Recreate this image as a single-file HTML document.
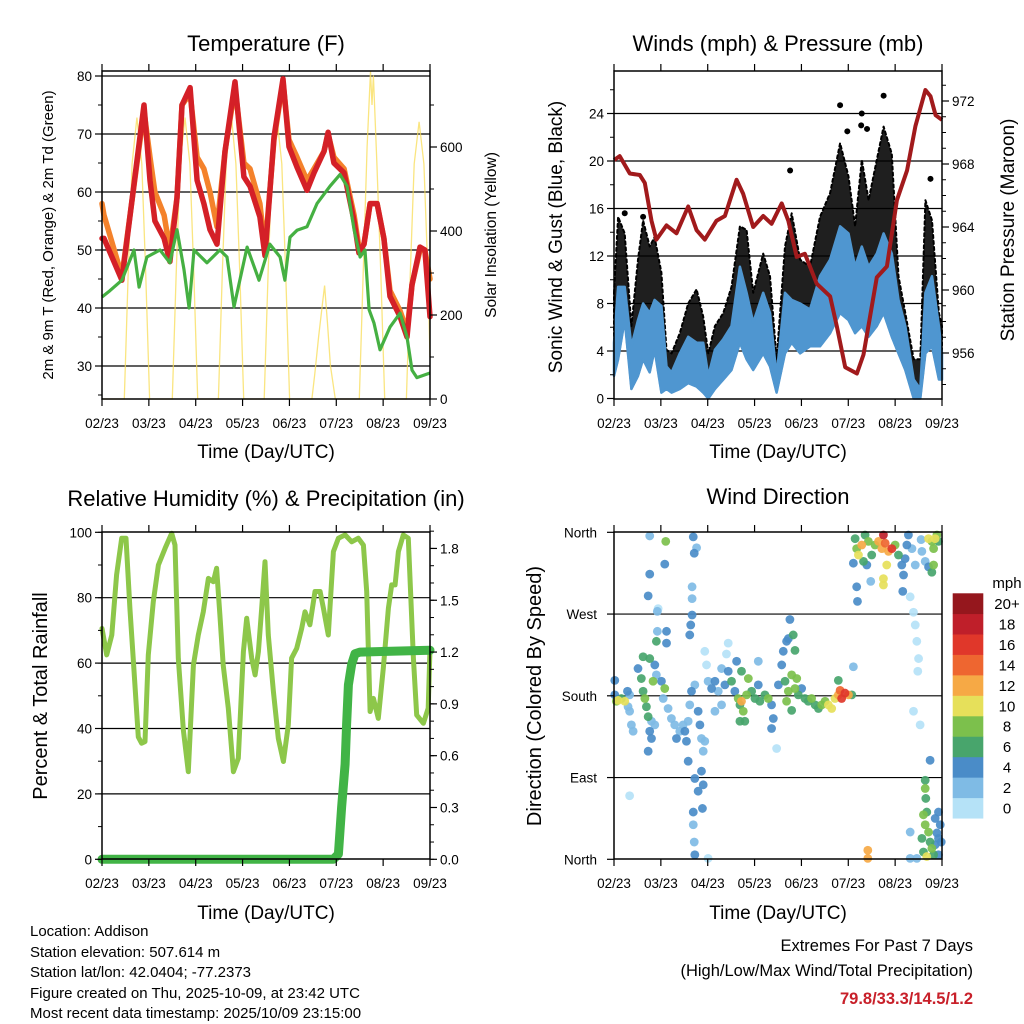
<!DOCTYPE html>
<html><head><meta charset="utf-8"><title>Station Meteogram</title>
<style>
html,body{margin:0;padding:0;background:#fff;}
svg{display:block;font-family:"Liberation Sans",Arial,sans-serif;}
</style></head>
<body>
<svg id="chart" width="1024" height="1024" viewBox="0 0 1024 1024">
<rect x="0" y="0" width="1024" height="1024" fill="#fff"/>
<text x="266" y="51" font-size="22" text-anchor="middle">Temperature (F)</text>
<text x="778" y="51" font-size="22" text-anchor="middle">Winds (mph) &amp; Pressure (mb)</text>
<text x="266" y="506" font-size="22" text-anchor="middle">Relative Humidity (%) &amp; Precipitation (in)</text>
<text x="778" y="504" font-size="22" text-anchor="middle">Wind Direction</text>
<text x="266" y="458" font-size="19" text-anchor="middle">Time (Day/UTC)</text>
<text x="778" y="458" font-size="19" text-anchor="middle">Time (Day/UTC)</text>
<text x="266" y="919" font-size="19" text-anchor="middle">Time (Day/UTC)</text>
<text x="778" y="919" font-size="19" text-anchor="middle">Time (Day/UTC)</text>
<text transform="translate(53,235) rotate(-90)" font-size="15" text-anchor="middle">2m &amp; 9m T (Red, Orange) &amp; 2m Td (Green)</text>
<text transform="translate(496,235) rotate(-90)" font-size="15.5" text-anchor="middle">Solar Insolation (Yellow)</text>
<text transform="translate(562,237) rotate(-90)" font-size="19" text-anchor="middle">Sonic Wind &amp; Gust (Blue, Black)</text>
<text transform="translate(1014,230) rotate(-90)" font-size="19" text-anchor="middle">Station Pressure (Maroon)</text>
<text transform="translate(47,696) rotate(-90)" font-size="20" text-anchor="middle">Percent &amp; Total Rainfall</text>
<text transform="translate(541,696) rotate(-90)" font-size="20" text-anchor="middle">Direction (Colored By Speed)</text>
<g font-size="15">
<text x="30" y="936">Location: Addison</text>
<text x="30" y="957">Station elevation: 507.614 m</text>
<text x="30" y="977">Station lat/lon: 42.0404; -77.2373</text>
<text x="30" y="998">Figure created on Thu, 2025-10-09, at 23:42 UTC</text>
<text x="30" y="1018">Most recent data timestamp: 2025/10/09 23:15:00</text>
</g>
<text x="973" y="951" font-size="16.5" text-anchor="end">Extremes For Past 7 Days</text>
<text x="973" y="976" font-size="16.5" text-anchor="end">(High/Low/Max Wind/Total Precipitation)</text>
<text x="973" y="1004" font-size="16.5" font-weight="bold" fill="#c8202a" text-anchor="end">79.8/33.3/14.5/1.2</text>
</svg>
<script>
// ---------- data ----------
const dayTickLabels=['02/23','03/23','04/23','05/23','06/23','07/23','08/23','09/23'];
const tempHours=[0,1,10.2,21.5,24.6,27.1,31.8,34.8,38.4,41,45.1,48.7,52.2,55.3,58.9,63,68.1,72.7,75.8,80.9,83.5,88.1,92.7,95.8,99.9,105,108.6,113.7,115.8,118.8,124,129.1,131.6,134.2,137.3,140.9,144.4,147.5,152.7,156.2,158.8,162.9,165.4,168];
const temp2m=[52,52,44.8,75,62,55,52,48,59,75,78,62,58,53.5,51,67,79,62.6,61,55.7,49,69.5,79.5,67.8,64.3,60.3,63.3,67,70.3,65,63.3,55,49.5,51,58,58,52,42,38.5,35,44,50.5,50,38.5];
const temp9m=[58,56,45.5,74,66,60,56,50,59,75,77,66,64,60,54,67,78,65,64,58,50,69,79,69,66,62,64,67,70,66,64,56,50.5,51,58,58,52,43,39.5,36,44,50,50,45];
const dewHours=[0,4.1,10.2,16.4,19,23,29.7,34.8,38.4,42,44.6,47.1,53.8,60.4,64,67.6,74.3,80.4,86,91.2,93.7,96.3,99.9,105,110.1,116.8,121.9,125.5,129.1,132.2,134.7,136.8,139.3,142.4,147.5,152.7,156.2,158.8,161.3,168];
const dewPoint=[41.9,43,44.8,50,43.6,48.8,50,47.8,53.5,46.6,40,50,47.8,50,48.8,40.2,50.5,44.8,51,48.8,44.8,52.2,53.4,54,58,61,63,61,53.5,48.8,50,39.7,37.4,32.8,36.7,39.1,35,29.3,28,28.8];
const solarHours=[0,11.4,13.4,15.4,17.9,20.4,22.4,24.4,36,38,40,42.5,45,47,49,59.6,61.6,63.6,66.1,68.6,70.6,72.6,83.1,85.1,87.1,89.6,92.1,94.1,96.1,107.5,109,111,113,114,115.5,117,119.5,131.8,133.8,135.8,137.5,138.3,139,140.8,142.8,144.8,155.9,157.9,159.9,162.4,164.9,166.9,168];
const solarValues=[0,0,300,560,670,560,300,0,0,300,560,670,560,300,0,0,300,560,680,560,300,0,0,300,560,670,560,300,0,0,60,150,230,270,180,80,0,0,300,600,780,700,770,560,300,0,0,300,560,660,560,300,100];
const windHours=[0,2.1,5.5,8.9,12.3,14.9,18.3,20.8,24.3,26.9,29.5,33.7,38,42.3,45.7,48.3,51.7,56,60.2,64.5,67.9,71.3,76.4,79.9,83.3,87.6,91,95.3,100.4,105.5,110.7,115.8,120.1,123.5,126.9,130.4,134.6,138.1,142.3,145.7,149.2,153.5,156.9,159.5,162.9,166.4,168];
const gustHigh=[8.9,15.3,13.9,6.1,11.7,15,12.8,13.6,10.6,4.1,3.8,5.5,8,9.2,6.9,3.8,6.1,7.2,9.4,14.5,14.2,8.9,12.2,10.3,3.3,12.8,15.6,11.7,11.1,15.3,17.3,21.5,18.7,14.5,20.1,16.7,20.1,22.9,20.6,10.3,7.2,3.3,3.3,16.7,15,7.2,6.1];
const windHigh=[4.7,9.4,9.4,4.4,6.6,8,7.2,8.3,7.8,2.7,2.2,3.8,5.2,4.7,4.7,1.9,4.1,5,6.1,11.1,8.9,6.4,8.9,7.2,1.9,8.9,8.3,8,7.5,10.3,11.7,14.5,13.9,11.1,12.8,11.1,12.2,13.9,12.2,8.3,6.1,1.6,0.8,8.9,10.3,6.1,3.8];
const windLow=[1.9,3.3,6.6,0.8,1.9,3.3,2.2,4.1,0.5,0.8,0.5,0.8,1.3,1,0.5,0,0.8,1.6,2.4,4.7,3.3,2.4,3.8,2.7,0.5,3.8,4.7,3.8,4.4,4.4,5.5,7.2,6.6,5.5,6.1,5.2,6.1,7.2,5.2,3.8,2.4,0,0,3.8,4.4,1.6,1.6];
const gustPeakHours=[115.8,138.1,126.9,90.2,126.6,129.6,162.1,14.9,5.5,119.5];
const gustPeakValues=[24.7,25.5,24,19.2,23,22.7,18.5,15.3,15.6,22.5];
const pressHours=[0,2.9,8.1,13.2,15.8,19.2,21.7,26.9,32,38,42.3,46.5,52.5,56.8,62.8,66.2,71.3,76.4,80.7,85.9,89.3,93.6,97.8,103.8,110.7,114.1,118.4,124.4,127.8,134.6,139.8,144.9,150.1,154.4,159.5,162.1,164.7,168];
const pressValues=[968.25,968.5,967.4,967.3,966.8,964.4,963.2,964.1,963.6,965.3,963.8,963.2,964.4,964.7,967,966.1,964,964.7,964.2,965.5,964.4,962.1,962.3,960.4,959.6,957.7,955.1,954.7,955.9,960.8,961.5,965.7,967.6,970.4,972.7,972.3,971.1,970.8];
const rhHours=[0,2.4,5,7.5,10.1,12.3,14.3,16,18.6,20.3,22,23.7,26.3,28.9,32.3,35.7,37.4,39.1,41.7,44.2,46.8,49.3,51.9,54.5,57,58.7,60.4,62.1,64.7,67.3,69.8,72.4,74.1,76.7,78.4,80.1,81.8,83.5,85.2,87.8,90.3,92.9,95.4,97.1,99.7,102.3,104,106.5,109.1,111.7,113.4,115.9,118.5,121.1,124.5,127.9,131.3,133.9,135.6,137.3,139,141.5,144.1,146.7,148.4,150.1,151.8,154.3,156.9,159.5,161.2,164.6,167.1,168];
const rhValues=[70.6,62.5,68.6,87,98.2,98.2,76.8,61.5,37.4,35.5,36,62.5,78.8,90,95.1,99.7,96.1,61.5,39.4,26.8,59.4,68.6,75.7,85.9,84.9,89,74.7,59.4,46.2,26.8,30.9,63.5,73.7,61.5,56.4,63.5,76.8,91,68.6,51.3,37,29.9,41.1,61.5,64.5,70.6,75.7,71.7,81.9,81.9,76.8,68.6,94.1,98.2,99.2,97.1,98.2,96.1,81.9,45.2,49.2,43.1,58.4,76.8,83.9,83.9,94.1,99.2,98.2,61.5,44.1,41.6,46.2,64.5];
const precipHours=[0,118.5,121.1,122.7,124.5,125.3,126.2,127.9,129.6,132.1,168];
const precipValues=[0,0,0.03,0.3,0.55,0.78,1.01,1.13,1.19,1.2,1.21];
const dirHours=[0.4,1.2,2.1,3.8,5.5,7.2,8.0,8.9,9.8,6.9,0.4,8.0,
12.3,14.0,14.9,15.8,16.6,17.5,18.3,19.2,20.0,20.9,21.7,22.2,22.2,18.3,14.9,17.5,19.2,20.9,21.7,24.3,26.0,
25.2,27.7,29.4,31.1,32.0,33.7,35.4,36.3,37.1,38.0,38.8,39.7,41.4,43.1,44.0,44.8,45.7,46.5,44.8,45.7,43.1,41.4,40.6,41.1,41.4,40.6,45.3,38.0,38.8,39.3,40.0,40.0,40.0,41.1,42.3,40.6,26.0,18.3,17.5,18.3,26.5,26.9,26.9,8.0,48.2,22.6,
46.5,47.4,48.2,50.0,51.7,53.4,55.1,56.8,58.5,60.2,61.9,62.8,63.6,64.5,65.3,66.2,67.0,67.9,68.8,70.5,72.2,73.9,74.7,58.5,57.6,65.3,64.5,55.1,51.7,73.9,
77.3,79.0,80.7,81.6,80.7,83.3,84.2,85.9,86.7,88.4,89.3,90.1,91.8,92.7,87.6,89.3,91.0,92.7,93.6,94.4,96.1,91.0,88.4,
97.8,99.5,101.2,103.0,104.7,106.4,108.1,109.8,111.5,113.2,114.9,115.8,116.6,118.3,120.1,121.8,114.9,122.6,130.0,130.0,
123.5,124.3,125.2,126.9,128.6,130.3,127.8,129.5,132.0,133.7,135.5,137.2,138.9,140.6,142.3,138.0,139.7,138.0,138.0,144.0,145.7,147.4,148.3,149.1,150.0,150.8,152.6,154.3,124.3,124.7,131.5,122.6,147.9,
151.7,153.4,154.3,155.1,156.0,155.6,153.4,156.8,157.3,157.7,159.4,
161.1,162.8,163.7,164.5,165.4,166.2,161.1,163.7,162.8,
161.9,159.4,159.4,159.7,160.2,158.5,159.4,161.1,161.9,162.8,160.2,164.5,166.2,167.1,166.2,164.5,163.7,151.7,151.7,155.1,157.7,158.5,166.2,165.4,167.6];
const dirDegrees=[181,174,175,177,174,168,163,148,141,185,197,181,
210,199,185,177,168,157,141,152,196,214,240,251,273,221,223,119,133,148,203,196,188,
177,166,155,148,133,141,148,141,130,152,170,185,192,163,148,133,119,130,97,82,75,89,38,19,5,52,56,108,247,258,269,300,287,337,343,355,325,314,290,356,350,251,238,70,1,276,
229,214,196,188,196,185,210,192,207,196,185,218,177,170,174,163,152,181,199,185,177,192,174,238,226,207,152,170,163,218,
181,177,170,155,144,122,192,214,229,240,243,264,247,230,196,185,203,188,199,181,188,164,174,
177,174,177,170,166,170,174,170,166,177,181,186,177,183,181,181,197,212,10,1,
353,342,335,346,357,350,328,324,335,346,350,342,348,339,342,357,324,309,302,346,335,324,313,331,346,357,342,324,300,284,306,326,295,
289,272,258,240,221,207,163,148,352,339,328,
353,350,342,353,357,350,322,324,316,
109,87,78,67,52,49,38,30,19,12,3,45,52,38,23,16,5,30,1,1,23,8,5,29,19];
const dirSpeeds=[4,8,10,6,10,2,2,2,2,4,4,2,
4,6,6,8,6,6,4,2,8,4,6,2,2,6,6,4,4,2,2,4,8,
2,2,2,2,4,2,2,4,4,2,2,4,2,4,4,2,2,2,4,4,4,4,2,2,4,4,4,4,4,4,4,2,2,4,2,4,4,4,4,2,8,4,4,1,1,1,
1,1,2,4,4,2,2,4,4,6,4,4,8,6,12,8,6,8,8,6,6,4,6,1,1,6,6,2,2,2,
6,8,4,4,4,1,4,4,4,4,4,4,6,6,6,8,8,8,8,6,4,6,8,
6,6,8,6,6,8,8,10,10,10,12,14,16,16,12,6,6,2,12,12,
6,8,10,12,6,8,6,4,6,8,12,12,14,12,16,18,10,10,10,8,6,4,4,4,4,4,2,2,4,4,2,4,4,
1,1,1,1,1,1,1,1,2,2,2,
10,8,8,10,8,6,4,8,6,
4,6,8,6,6,8,8,8,6,8,10,4,4,4,4,4,6,2,2,2,6,6,4,4,4];
const speedLabels=['0','2','4','6','8','10','12','14','16','18','20+'];
const speedColors=['#b5e2f7','#7fbbe5','#4a8cc8','#48a56c','#7cc04c','#e6e05a','#f6a945','#ee6630','#e0372a','#bf1f2a','#95171d'];

// ---------- helpers ----------
const NS='http://www.w3.org/2000/svg';
const svg=document.getElementById('chart');
function el(tag,attrs,parent){const e=document.createElementNS(NS,tag);for(const k in attrs)e.setAttribute(k,attrs[k]);(parent||svg).appendChild(e);return e;}
const panels=[{x0:102,x1:430,y0:71,y1:399},{x0:614,x1:942,y0:71,y1:399},{x0:102,x1:430,y0:532,y1:859},{x0:614,x1:942,y0:532,y1:859}];
function xs(p,h){return p.x0+h*(p.x1-p.x0)/168;}
const yT=v=>76+(80-v)*5.8;
const yS=v=>399-v*0.42;
const yW=v=>398.5-v*11.875;
const yP=v=>101+(972-v)*15.75;
const yR=v=>859.3-v*3.27;
const yPr=v=>859.3-v*172.7;
const yD=v=>859.3-v*0.9083;
function pathD(p,hs,vs,yf){let d='';for(let i=0;i<hs.length;i++){d+=(i?'L':'M')+xs(p,hs[i]).toFixed(1)+','+yf(vs[i]).toFixed(1);}return d;}
function hgrid(p,vals,yf,name){const g=el('g',{});


vals.forEach(v=>{const l=el('line',{x1:p.x0,x2:p.x1,y1:yf(v),y2:yf(v),stroke:'#000','stroke-width':1.2},g);

});}
function frame(p,name){const g=el('g',{});


const r=el('rect',{x:p.x0,y:p.y0,width:p.x1-p.x0,height:p.y1-p.y0,fill:'none',stroke:'#000','stroke-width':1.5},g);


dayTickLabels.forEach((lab,i)=>{const x=xs(p,i*24);
const t1=el('line',{x1:x,x2:x,y1:p.y1,y2:p.y1+7,stroke:'#000','stroke-width':1.2},g);


const t2=el('line',{x1:x,x2:x,y1:p.y0,y2:p.y0-7,stroke:'#000','stroke-width':1.2},g);


const tx=el('text',{x:x,y:p.y1+29,'font-size':13.5,'text-anchor':'middle'},g);
tx.textContent=lab;

});}
function yaxis(p,side,majors,minors,yf,fmt,name){const g=el('g',{});


const x=side==='left'?p.x0:p.x1;const s=side==='left'?-1:1;
minors.forEach(v=>{const l=el('line',{x1:x,x2:x+s*4,y1:yf(v),y2:yf(v),stroke:'#000','stroke-width':1},g);

});
majors.forEach(v=>{const l=el('line',{x1:x,x2:x+s*7,y1:yf(v),y2:yf(v),stroke:'#000','stroke-width':1.2},g);


const t=el('text',{x:x+s*10,y:yf(v)+5,'font-size':13.5,'text-anchor':side==='left'?'end':'start'},g);
t.textContent=fmt(v);

});}
function range(a,b,s){const r=[];for(let v=a;v<=b+1e-9;v+=s)r.push(+v.toFixed(3));return r;}

// ---------- panel 1: temperature ----------
const p1=panels[0];
hgrid(p1,[30,40,50,60,70,80],yT,'temperature-grid');
const sol=el('path',{d:pathD(p1,solarHours,solarValues,yS),fill:'none',stroke:'#f8dc55','stroke-width':1.3,'stroke-opacity':0.75});


const t9=el('path',{d:pathD(p1,tempHours,temp9m,yT),fill:'none',stroke:'#f4822b','stroke-width':5.5,'stroke-linejoin':'round','stroke-linecap':'round'});


const t2=el('path',{d:pathD(p1,tempHours,temp2m,yT),fill:'none',stroke:'#d42027','stroke-width':5.5,'stroke-linejoin':'round','stroke-linecap':'round'});


const td=el('path',{d:pathD(p1,dewHours,dewPoint,yT),fill:'none',stroke:'#45b042','stroke-width':3.2,'stroke-linejoin':'round'});


frame(p1,'temperature-frame');
yaxis(p1,'left',[30,40,50,60,70,80],range(25,80,5),yT,v=>String(v),'temperature-y-axis');
yaxis(p1,'right',[0,200,400,600],range(0,750,100),yS,v=>String(v),'solar-y-axis');

// ---------- panel 2: winds ----------
const p2=panels[1];
hgrid(p2,[4,8,12,16,20,24],yW,'wind-grid');
function bandD(p,hs,hi,lo,yf){let d='';for(let i=0;i<hs.length;i++)d+=(i?'L':'M')+xs(p,hs[i]).toFixed(1)+','+yf(hi[i]).toFixed(1);for(let i=hs.length-1;i>=0;i--)d+='L'+xs(p,hs[i]).toFixed(1)+','+yf(lo[i]).toFixed(1);return d+'Z';}
const gb=el('path',{d:bandD(p2,windHours,gustHigh,windLow,yW),fill:'#000','fill-opacity':0.88,stroke:'#000','stroke-width':2,'stroke-dasharray':'3 3','stroke-linecap':'round','stroke-linejoin':'round'});


gustPeakHours.forEach((h,i)=>{const c=el('circle',{cx:xs(p2,h),cy:yW(gustPeakValues[i]),r:3,fill:'#000'});

});
const wb=el('path',{d:bandD(p2,windHours,windHigh,windLow,yW),fill:'#4f96d0',stroke:'#4f96d0','stroke-width':2.5,'stroke-linejoin':'round'});


const pr=el('path',{d:pathD(p2,pressHours,pressValues,yP),fill:'none',stroke:'#a11a1c','stroke-width':4,'stroke-linejoin':'round'});


frame(p2,'winds-frame');
yaxis(p2,'left',[0,4,8,12,16,20,24],range(0,26,2),yW,v=>String(v),'wind-y-axis');
yaxis(p2,'right',[956,960,964,968,972],range(954,973,1),yP,v=>String(v),'pressure-y-axis');

// ---------- panel 3: humidity ----------
const p3=panels[2];
hgrid(p3,[20,40,60,80],yR,'humidity-grid');
const rh=el('path',{d:pathD(p3,rhHours,rhValues,yR),fill:'none',stroke:'#8dc74a','stroke-width':5,'stroke-linejoin':'round','stroke-linecap':'round'});


const pc=el('path',{d:pathD(p3,precipHours,precipValues,yPr),fill:'none',stroke:'#41b446','stroke-width':9,'stroke-linejoin':'round','stroke-linecap':'round'});


frame(p3,'humidity-frame');
yaxis(p3,'left',[0,20,40,60,80,100],range(0,100,10),yR,v=>String(v),'humidity-y-axis');
yaxis(p3,'right',[0,0.3,0.6,0.9,1.2,1.5,1.8],range(0,1.9,0.1),yPr,v=>v.toFixed(1),'precip-y-axis');

// ---------- panel 4: wind direction ----------
const p4=panels[3];
hgrid(p4,[90,180,270],yD,'direction-grid');
const order=dirHours.map((h,i)=>i).sort((a,b)=>dirSpeeds[a]-dirSpeeds[b]);
order.forEach(i=>{const ci=Math.min(10,Math.floor(dirSpeeds[i]/2));
const c=el('circle',{cx:xs(p4,dirHours[i]),cy:yD(dirDegrees[i]),r:4.4,fill:speedColors[ci],'fill-opacity':0.92});

});
frame(p4,'direction-frame');
(function(){const g=el('g',{});


const labs=['North','East','South','West','North'];
[0,90,180,270,360].forEach((v,i)=>{const l=el('line',{x1:p4.x0,x2:p4.x0-7,y1:yD(v),y2:yD(v),stroke:'#000','stroke-width':1.2},g);


const t=el('text',{x:p4.x0-17,y:yD(v)+5,'font-size':13.5,'text-anchor':'end'},g);
t.textContent=labs[i];

});})();

// ---------- colorbar ----------
(function(){const g=el('g',{});


const mt=el('text',{x:1007,y:588,'font-size':15,'text-anchor':'middle'},g);
mt.textContent='mph';


const top=593.3,h=20.45;
speedLabels.forEach((lab,i)=>{const y=top+(10-i)*h;
const r=el('rect',{x:952.7,y:y,width:30.6,height:h+0.3,fill:speedColors[i]},g);


const t=el('text',{x:1007,y:y+h/2+5.5,'font-size':15,'text-anchor':'middle'},g);
t.textContent=lab;

});})();
</script>
</body></html>
